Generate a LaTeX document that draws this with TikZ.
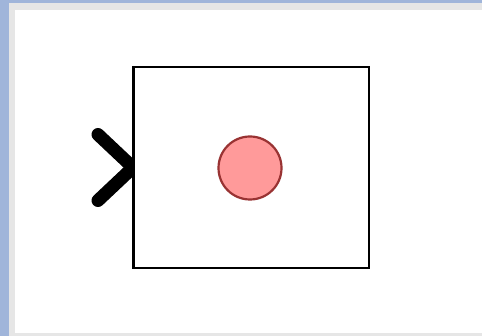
\documentclass[tikz,border=0pt]{standalone}
\usetikzlibrary{positioning}
\definecolor{frameblue}{HTML}{A0B5DA}
\definecolor{framegray}{HTML}{E6E6E6}
\definecolor{dotfill}{HTML}{FF9A9A}
\definecolor{dotline}{HTML}{993333}
\tikzset{
  block/.style={draw=black, line width=2pt, fill=white, minimum width=235pt, minimum height=201pt, inner sep=0pt},
  dot/.style={circle, draw=dotline, line width=2.2pt, fill=dotfill, minimum size=63pt, inner sep=0pt},
  port/.style={line width=13pt, line cap=round, line join=round}
}
\begin{document}
\begin{tikzpicture}[x=1pt,y=-1pt]
\useasboundingbox (0,0) rectangle (482,336);
% window frame
\fill[frameblue] (0,0) rectangle (482,336);
\fill[framegray] (9,3) rectangle (482,336);
\fill[white] (15,10) rectangle (482,333);
% block with its state dot
\node[block] (box) at (251.5,167.5) {};
\node[dot] (state) at (250,168) {};
% input port, cut off at the block's edge
\coordinate[above left=33pt and 35pt of box.west] (porttop);
\coordinate[below left=33pt and 35pt of box.west] (portbot);
\begin{scope}
\clip (0,0) rectangle (box.south west);
\draw[port] (porttop) -- (box.west) -- (portbot);
\end{scope}
\draw[line width=2pt] (box.north west) -- (box.south west);
\end{tikzpicture}
\end{document}
